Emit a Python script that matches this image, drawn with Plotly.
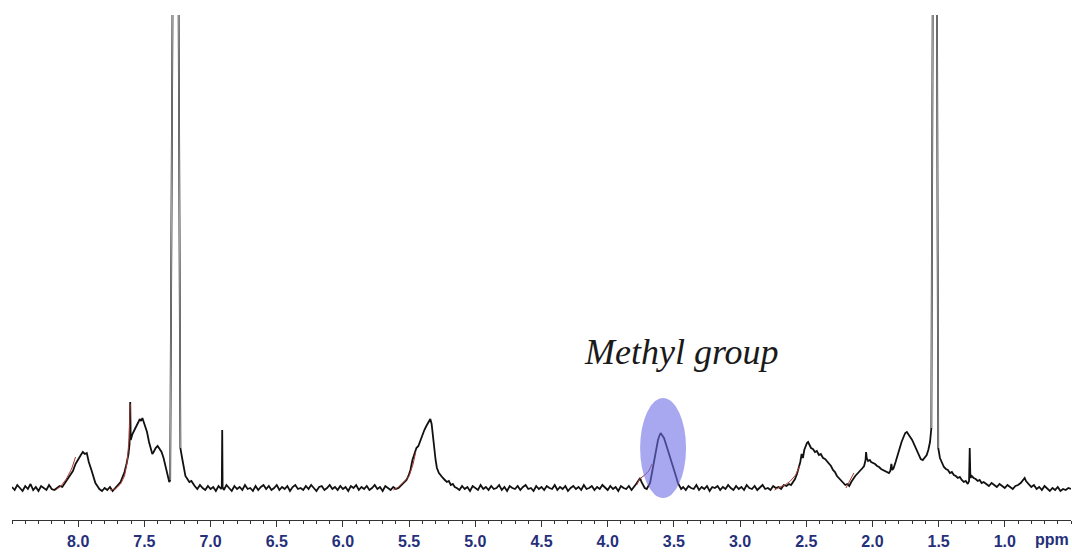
import plotly.graph_objects as go

# ---- data (ppm, intensity in arbitrary units; baseline = 0) ----
baseline_a = [(8.50, 1), (8.48, -2), (8.46, 3), (8.44, 0), (8.42, -3), (8.40, 2), (8.38, -1), (8.36, 4),
              (8.34, -2), (8.32, 1), (8.30, -3), (8.28, 2), (8.26, 0), (8.24, -2), (8.22, 3), (8.20, -1), (8.18, -2)]

peak_80 = [(8.16, 0), (8.14, 2), (8.12, 1), (8.10, 5), (8.08, 8), (8.06, 13), (8.04, 17), (8.02, 24), (8.00, 29),
           (7.98, 33), (7.965, 36), (7.95, 34), (7.935, 35), (7.92, 26), (7.90, 18), (7.885, 11), (7.87, 5), (7.855, 2)]

baseline_b = [(7.84, -1), (7.82, -3), (7.80, 0), (7.78, -2), (7.76, 1), (7.74, -3), (7.72, 0)]

aromatic = [(7.70, 3), (7.68, 6), (7.665, 11), (7.65, 16), (7.635, 24), (7.62, 34), (7.612, 44), (7.607, 86),
            (7.603, 48), (7.59, 54), (7.575, 58), (7.56, 63), (7.545, 66), (7.535, 69), (7.525, 67), (7.515, 70),
            (7.505, 66), (7.49, 62), (7.48, 56), (7.465, 46), (7.45, 38), (7.44, 34), (7.43, 36), (7.415, 40),
            (7.40, 42), (7.385, 39), (7.37, 36), (7.355, 30), (7.34, 22), (7.325, 12), (7.312, 6), (7.305, 8),
            (7.283, 600), (7.245, 600), (7.228, 40), (7.215, 30), (7.205, 22), (7.19, 12), (7.175, 9), (7.16, 6),
            (7.145, 7), (7.13, 3)]

baseline_c = [(7.12, 2), (7.10, -1), (7.08, 3), (7.06, 0), (7.04, -2), (7.02, 2), (7.00, -1), (6.98, 1), (6.96, -3),
              (6.94, 2), (6.92, -1), (6.915, 2), (6.912, 58), (6.909, 1), (6.90, -2), (6.88, 3), (6.86, 0),
              (6.84, -3), (6.82, 2), (6.80, -1), (6.78, 1), (6.76, -2), (6.74, 3), (6.72, -1), (6.70, 0), (6.68, -3),
              (6.66, 2), (6.64, -2), (6.62, 1), (6.60, 3), (6.58, -1), (6.56, 2), (6.54, -2), (6.52, 0), (6.50, 3),
              (6.48, -2), (6.46, 1), (6.44, -1), (6.42, 2), (6.40, -3), (6.38, 1), (6.36, 3), (6.34, -1), (6.32, 0),
              (6.30, -2), (6.28, 2), (6.26, -1), (6.24, 3), (6.22, 0), (6.20, -3), (6.18, 1), (6.16, 2), (6.14, -2),
              (6.12, 0), (6.10, 3), (6.08, -1), (6.06, 1), (6.04, -2), (6.02, 2), (6.00, -1), (5.98, 1), (5.96, -3),
              (5.94, 2), (5.92, 0), (5.90, 3), (5.88, -2), (5.86, 1), (5.84, -1), (5.82, 2), (5.80, -2), (5.78, 0),
              (5.76, 3), (5.74, -1), (5.72, 1), (5.70, -3), (5.68, 2), (5.66, 0), (5.64, -2), (5.62, 1), (5.60, -1)]

peak_53 = [(5.58, 0), (5.565, 2), (5.55, 3), (5.535, 6), (5.52, 8), (5.505, 12), (5.49, 18), (5.475, 28),
           (5.46, 33), (5.445, 40), (5.43, 42), (5.415, 48), (5.40, 53), (5.385, 58), (5.37, 62), (5.355, 66),
           (5.34, 69), (5.33, 64), (5.32, 54), (5.31, 40), (5.30, 28), (5.29, 20), (5.275, 15), (5.26, 12),
           (5.245, 10), (5.23, 8), (5.215, 6), (5.20, 7), (5.185, 3), (5.17, 4), (5.155, 1)]

baseline_d = [(5.14, 0), (5.12, -2), (5.10, 2), (5.08, -1), (5.06, 1), (5.04, -3), (5.02, 2), (5.00, 0), (4.98, -2),
              (4.96, 3), (4.94, -1), (4.92, 1), (4.90, -2), (4.88, 2), (4.86, -1), (4.84, 0), (4.82, 3), (4.80, -2),
              (4.78, 1), (4.76, -3), (4.74, 2), (4.72, 0), (4.70, -1), (4.68, 2), (4.66, -2), (4.64, 1), (4.62, 3),
              (4.60, -1), (4.58, 0), (4.56, -3), (4.54, 2), (4.52, -1), (4.50, 1), (4.48, -2), (4.46, 2), (4.44, 0),
              (4.42, -1), (4.40, 3), (4.38, -2), (4.36, 1), (4.34, -1), (4.32, 2), (4.30, -3), (4.28, 0), (4.26, 2),
              (4.24, -1), (4.22, 1), (4.20, -2), (4.18, 3), (4.16, -1), (4.14, 0), (4.12, 2), (4.10, -2), (4.08, 1),
              (4.06, -1), (4.04, 3), (4.02, 0), (4.00, -2), (3.98, 2), (3.96, -1), (3.94, 1), (3.92, -3), (3.90, 2),
              (3.88, 0), (3.86, -1), (3.84, 2), (3.82, -2), (3.80, 1)]

methyl = [(3.785, 4), (3.77, 7), (3.755, 10), (3.745, 6), (3.733, 3), (3.72, 0), (3.705, -1), (3.69, 2), (3.68, 5),
          (3.67, 12), (3.657, 22), (3.645, 32), (3.635, 40), (3.62, 48), (3.61, 52), (3.60, 55), (3.59, 53),
          (3.575, 50), (3.56, 44), (3.55, 40), (3.54, 34), (3.53, 30), (3.515, 24), (3.505, 20), (3.49, 14),
          (3.48, 10), (3.47, 5), (3.46, 2), (3.445, -1)]

baseline_e = [(3.43, 1), (3.41, -2), (3.39, 2), (3.37, 0), (3.35, -1), (3.33, 3), (3.31, -2), (3.29, 1), (3.27, -1),
              (3.25, 2), (3.23, -3), (3.21, 1), (3.19, 0), (3.17, 2), (3.15, -2), (3.13, 1), (3.11, -1), (3.09, 3),
              (3.07, 0), (3.05, -2), (3.03, 2), (3.01, -1), (2.99, 1), (2.97, -2), (2.95, 3), (2.93, 0), (2.91, -1),
              (2.89, 2), (2.87, -2), (2.85, 1), (2.83, 3), (2.81, -1), (2.79, 0), (2.77, -2), (2.75, 2), (2.73, 0)]

aliphatic = [(2.71, 1), (2.69, -1), (2.67, 3), (2.65, 2), (2.63, 4), (2.615, 3), (2.60, 6), (2.585, 9), (2.57, 14),
             (2.557, 20), (2.545, 26), (2.535, 34), (2.525, 30), (2.515, 38), (2.505, 42), (2.495, 45), (2.486, 46),
             (2.475, 42), (2.464, 40), (2.45, 39), (2.434, 36), (2.42, 37), (2.404, 33), (2.39, 34), (2.373, 30),
             (2.358, 29), (2.343, 27), (2.328, 24), (2.313, 22), (2.298, 18), (2.283, 16), (2.268, 12), (2.253, 10),
             (2.238, 8), (2.222, 5), (2.205, 3), (2.19, 4), (2.175, 2), (2.16, 6), (2.146, 9), (2.13, 12),
             (2.116, 14), (2.10, 16), (2.086, 18), (2.075, 20), (2.063, 22), (2.052, 28), (2.048, 36), (2.043, 30),
             (2.033, 27), (2.02, 28), (2.01, 26), (1.995, 25), (1.98, 24), (1.965, 22), (1.95, 21), (1.935, 19),
             (1.92, 18), (1.905, 17), (1.89, 16), (1.875, 15), (1.865, 17), (1.857, 24), (1.85, 18), (1.84, 20),
             (1.825, 26), (1.81, 33), (1.795, 40), (1.78, 46), (1.765, 51), (1.752, 55), (1.74, 56), (1.728, 53),
             (1.715, 51), (1.70, 48), (1.69, 45), (1.675, 40), (1.66, 35), (1.65, 32), (1.635, 29), (1.62, 28),
             (1.605, 30), (1.59, 33), (1.578, 38), (1.565, 46), (1.555, 60), (1.542, 600), (1.515, 600),
             (1.503, 40), (1.49, 30), (1.475, 25), (1.46, 21), (1.445, 19), (1.43, 18), (1.415, 15), (1.40, 16),
             (1.385, 13), (1.37, 12), (1.355, 10), (1.34, 11), (1.325, 8), (1.31, 6), (1.295, 7), (1.28, 4),
             (1.27, 7), (1.265, 40), (1.26, 10), (1.25, 12), (1.235, 10), (1.22, 9), (1.205, 7), (1.19, 8),
             (1.175, 5), (1.16, 6)]

baseline_f = [(1.14, 4), (1.12, 2), (1.10, 5), (1.08, 3), (1.06, 1), (1.04, 4), (1.02, 2), (1.00, 0), (0.98, 3),
              (0.96, 1), (0.94, -1), (0.92, 2), (0.90, 3), (0.88, 5), (0.86, 8), (0.85, 10), (0.84, 7), (0.82, 4),
              (0.80, 1), (0.78, 3), (0.76, -1), (0.74, 1), (0.72, -2), (0.70, 2), (0.68, -1), (0.66, -3), (0.64, 0),
              (0.62, -2), (0.60, 1), (0.58, -3), (0.56, -1), (0.54, -2), (0.52, 0), (0.50, -1)]

# integral (red) curve segments
integral_80 = [(8.17, -2), (8.13, 2), (8.09, 9), (8.05, 19), (8.02, 31)]
integral_76 = [(7.76, -2), (7.72, -1), (7.68, 4), (7.65, 12), (7.63, 26), (7.615, 50), (7.607, 84)]
integral_53 = [(5.62, -2), (5.58, 1), (5.54, 6), (5.50, 12), (5.47, 24), (5.45, 36)]
integral_36 = [(3.78, 3), (3.765, 8), (3.75, 10), (3.72, 13), (3.69, 17), (3.665, 24)]
integral_25 = [(2.74, -2), (2.70, 1), (2.66, 3), (2.62, 7), (2.58, 13), (2.55, 22)]
integral_21 = [(2.20, 0), (2.17, 7), (2.14, 15)]

tick_vals = [8.0, 7.5, 7.0, 6.5, 6.0, 5.5, 5.0, 4.5, 4.0, 3.5, 3.0, 2.5, 2.0, 1.5, 1.0]
tick_text = ["8.0", "7.5", "7.0", "6.5", "6.0", "5.5", "5.0", "4.5", "4.0", "3.5", "3.0", "2.5", "2.0", "1.5", "1.0"]
axis_unit = "ppm"
annotation_text = "Methyl group"
highlight_ppm = (3.755, 3.408)
highlight_int = (-10, 90)

# ---- build traces ----
regions = [baseline_a, peak_80, baseline_b, aromatic, baseline_c, peak_53,
           baseline_d, methyl, baseline_e, aliphatic, baseline_f]
spectrum = [p for r in regions for p in r]
ppm = [p[0] for p in spectrum]
inten = [p[1] for p in spectrum]

# off-scale solvent peaks drawn in grey (as in the reference)
idx = set()
for i, v in enumerate(inten):
    if v > 100:
        idx.update({i - 1, i, i + 1})
gx, gy, prev = [], [], None
for i in sorted(idx):
    if prev is not None and i != prev + 1:
        gx.append(None)
        gy.append(None)
    gx.append(ppm[i])
    gy.append(inten[i])
    prev = i

ix, iy = [], []
for seg in [integral_80, integral_76, integral_53, integral_36, integral_25, integral_21]:
    ix += [p[0] for p in seg] + [None]
    iy += [p[1] for p in seg] + [None]

fig = go.Figure()
fig.add_trace(go.Scatter(x=ppm, y=inten, mode="lines", line=dict(color="#111111", width=1.8), hoverinfo="skip"))
fig.add_trace(go.Scatter(x=ix, y=iy, mode="lines", line=dict(color="#a83a32", width=1), hoverinfo="skip"))
fig.add_trace(go.Scatter(x=gx, y=gy, mode="lines", line=dict(color="#a0a0a0", width=1.1), hoverinfo="skip"))

fig.add_shape(type="circle", xref="x", yref="y",
              x0=highlight_ppm[0], x1=highlight_ppm[1], y0=highlight_int[0], y1=highlight_int[1],
              fillcolor="rgba(110,110,230,0.6)", line=dict(width=0), layer="above")

label_font = dict(family="Liberation Sans, Arial, sans-serif", size=16, color="#26307a", weight="bold")

fig.add_annotation(x=3.44, y=136, xref="x", yref="y", text=annotation_text, showarrow=False,
                   font=dict(family="Liberation Serif, Times New Roman, serif", size=36, style="italic",
                             color="#1a1a1a"))
fig.add_annotation(x=0.64, y=0, xref="x", yref="paper", yanchor="top", yshift=-9, text=axis_unit,
                   showarrow=False, font=label_font)

fig.update_layout(
    width=1072, height=553,
    margin=dict(l=12, r=1, t=15, b=33),
    paper_bgcolor="white", plot_bgcolor="white",
    showlegend=False,
    xaxis=dict(range=[8.5, 0.5], showline=True, linecolor="#333333", linewidth=1,
               ticks="outside", ticklen=6, tickwidth=1, tickcolor="#333333",
               tickmode="array", tickvals=tick_vals, ticktext=tick_text, tickfont=label_font,
               ticklabelstandoff=1,
               minor=dict(tickmode="linear", tick0=0, dtick=0.1, ticks="outside", ticklen=3,
                          tickcolor="#333333", showgrid=False),
               showgrid=False, zeroline=False),
    yaxis=dict(range=[-32, 473], visible=False, showgrid=False, zeroline=False),
)

fig.write_html("out.html", config={"displayModeBar": False, "staticPlot": True},
               post_script="document.body.style.margin='0px';document.body.style.overflow='hidden';")
